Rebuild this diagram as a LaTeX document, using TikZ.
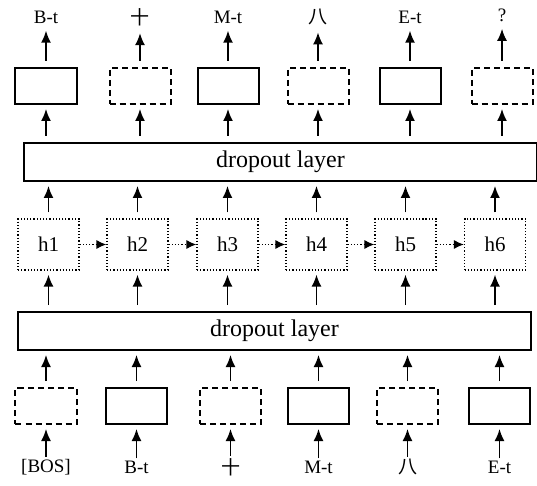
\documentclass[tikz,border=0pt]{standalone}
\usepackage{fontspec}
\setmainfont{Liberation Serif}
\newfontfamily\cjk{Noto Sans CJK SC}
\usepackage{xcolor}
\usepackage{tikz}
\usetikzlibrary{arrows.meta,positioning}

\tikzset{
    cell/.style={draw, line width=1bp, minimum width=30.5bp, minimum height=18bp, inner sep=0pt},
    dropcell/.style={cell, dashed, dash pattern=on 3bp off 2bp},
    hcell/.style={draw, line width=0.6bp, densely dotted, minimum width=30.5bp, minimum height=25.5bp, inner sep=0pt, font=\fontsize{10.5bp}{12bp}\selectfont},
    droplayer/.style={draw, line width=1bp, minimum height=19bp, inner sep=0pt, font=\fontsize{12bp}{14bp}\selectfont},
    tag/.style={inner sep=0pt, font=\fontsize{9.5bp}{11bp}\selectfont},
    up/.style={-{Latex[length=6bp,width=5bp]}, line width=0.8bp, shorten <=3bp, shorten >=2bp},
    rnn/.style={-{Latex[length=5bp,width=4.5bp]}, line width=0.6bp, densely dotted}
}

\begin{document}
\begin{tikzpicture}[x=0.5bp, y=-0.5bp]
                \useasboundingbox (0,0) rectangle (537,486);

                % output tags
                \node[tag] (t1) at (46,17) {B-t};
                \node[tag] (t2) at (140,17) {\cjk 十};
                \node[tag] (t3) at (228,17) {M-t};
                \node[tag] (t4) at (318,17) {\cjk 八};
                \node[tag] (t5) at (410,17) {E-t};
                \node[tag] (t6) at (502,15) {?};

                % output cells
                \node[cell] (o1) at (46,86) {};
                \node[dropcell] (o2) at (140,86) {};
                \node[cell] (o3) at (228,86) {};
                \node[dropcell] (o4) at (318,86) {};
                \node[cell] (o5) at (410,86) {};
                \node[dropcell] (o6) at (502,86) {};

                % upper dropout
                \node[droplayer, minimum width=256.5bp] (d2) at (280.5,162) {dropout layer};

                % hidden states
                \node[hcell] (h1) at (48.5,244.5) {h1};
                \node[hcell] (h2) at (137.5,244.5) {h2};
                \node[hcell] (h3) at (227.5,244.5) {h3};
                \node[hcell] (h4) at (316.5,244.5) {h4};
                \node[hcell] (h5) at (405.5,244.5) {h5};
                \node[hcell] (h6) at (495,244.5) {h6};

                % lower dropout
                \node[droplayer, minimum width=256.5bp] (d1) at (274.5,331) {dropout layer};

                % input cells
                \node[dropcell] (i1) at (46,406) {};
                \node[cell] (i2) at (136.5,406) {};
                \node[dropcell] (i3) at (230.5,406) {};
                \node[cell] (i4) at (318.5,406) {};
                \node[dropcell] (i5) at (407.5,406) {};
                \node[cell] (i6) at (499.5,406) {};

                % input tags
                \node[tag] (s1) at (46,467) {[BOS]};
                \node[tag] (s2) at (136.5,467) {B-t};
                \node[tag] (s3) at (230.5,467) {\cjk 十};
                \node[tag] (s4) at (318.5,467) {M-t};
                \node[tag] (s5) at (407.5,467) {\cjk 八};
                \node[tag] (s6) at (499.5,467) {E-t};

                % connections
                \foreach \i in {1,...,6} {
                    \draw[up, shorten <=1bp] (s\i.north) -- (i\i.south);
                    \draw[up] (i\i.north) -- (i\i.north |- d1.south);
                    \draw[up] (h\i.north |- d1.north) -- (h\i.south);
                    \draw[up] (h\i.north) -- (h\i.north |- d2.south);
                    \draw[up] (o\i.south |- d2.north) -- (o\i.south);
                    \draw[up, shorten >=3.5bp] (o\i.north) -- (t\i.south);
                }
                \foreach \i/\j in {1/2,2/3,3/4,4/5,5/6} {
                    \draw[rnn] (h\i.east) -- (h\j.west);
                }
            \end{tikzpicture}
\end{document}
